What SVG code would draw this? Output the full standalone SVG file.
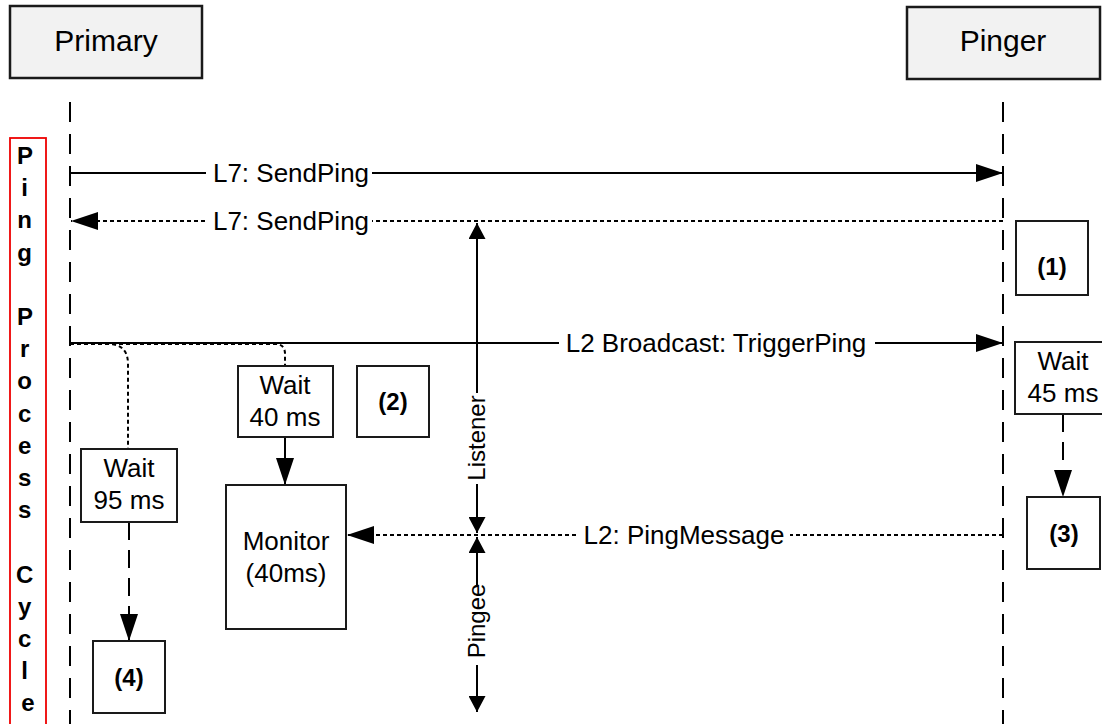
<svg xmlns="http://www.w3.org/2000/svg" width="1102" height="724" viewBox="0 0 1102 724">
  <style>
    text { font-family: "Liberation Sans", Arial, sans-serif; fill: #000; }
    .hdr { fill: #f2f2f2; stroke: #1a1a1a; stroke-width: 2.5; }
    .box { fill: #fff; stroke: #1a1a1a; stroke-width: 2; }
    .t30 { font-size: 30px; }
    .t26 { font-size: 26px; }
    .t24 { font-size: 24px; }
    .num { font-size: 24px; font-weight: bold; }
    .life { fill: none; stroke: #000; stroke-width: 2; stroke-dasharray: 20 12; }
    .solid { fill: none; stroke: #000; stroke-width: 2; }
    .dot { fill: none; stroke: #000; stroke-width: 2; stroke-dasharray: 4 3; }
    .dash { fill: none; stroke: #000; stroke-width: 2; stroke-dasharray: 18 10; }
    .mask { fill: #fff; stroke: none; }
  </style>
  <defs>
    <marker id="ah" markerUnits="userSpaceOnUse" markerWidth="27" markerHeight="18" refX="27" refY="9" orient="auto">
      <path d="M0,0 L27,9 L0,18 z" fill="#000"/>
    </marker>
    <marker id="ahs" markerUnits="userSpaceOnUse" markerWidth="16" markerHeight="17" refX="16" refY="8.5" orient="auto">
      <path d="M0,0 L16,8.5 L0,17 z" fill="#000"/>
    </marker>
  </defs>

  <!-- lifeline headers -->
  <g id="primary">
    <rect class="hdr" x="10" y="6" width="192" height="72"/>
    <text class="t30" x="106" y="51" text-anchor="middle">Primary</text>
  </g>
  <g id="pinger">
    <rect class="hdr" x="907" y="7" width="193" height="72"/>
    <text class="t30" x="1003" y="51" text-anchor="middle">Pinger</text>
  </g>

  <!-- cycle banner -->
  <g id="cycle">
    <rect x="10" y="138" width="36" height="600" fill="none" stroke="#e00" stroke-width="1.8"/>
    <text class="num" text-anchor="middle">
      <tspan x="28" y="164">P</tspan>
      <tspan x="28" dy="32.2">i</tspan>
      <tspan x="28" dy="32.2">n</tspan>
      <tspan x="28" dy="32.2">g</tspan>
      <tspan x="28" dy="64.4">P</tspan>
      <tspan x="28" dy="32.2">r</tspan>
      <tspan x="28" dy="32.2">o</tspan>
      <tspan x="28" dy="32.2">c</tspan>
      <tspan x="28" dy="32.2">e</tspan>
      <tspan x="28" dy="32.2">s</tspan>
      <tspan x="28" dy="32.2">s</tspan>
      <tspan x="28" dy="64.4">C</tspan>
      <tspan x="28" dy="32.2">y</tspan>
      <tspan x="28" dy="32.2">c</tspan>
      <tspan x="28" dy="32.2">l</tspan>
      <tspan x="28" dy="32.2">e</tspan>
    </text>
  </g>

  <!-- connectors -->
  <g id="connectors">
    <path class="life" d="M70,102 V724"/>
    <path class="life" d="M1003,102 V724"/>

    <!-- L7 request / reply -->
    <path class="solid" d="M70,173 H1003" marker-end="url(#ah)"/>
    <rect class="mask" x="206" y="160" width="166" height="28"/>
    <text class="t26" x="291" y="182" text-anchor="middle">L7: SendPing</text>

    <path class="dot" d="M1003,221 H71" marker-end="url(#ah)"/>
    <rect class="mask" x="206" y="208" width="166" height="28"/>
    <text class="t26" x="291" y="230" text-anchor="middle">L7: SendPing</text>

    <!-- L2 broadcast trigger -->
    <path class="dot" d="M70,344 H108 Q128,344 128,364 V449"/>
    <path class="dot" d="M70,344 H275 Q285,344 285,354 V366"/>
    <path class="solid" d="M70,343 H1003" marker-end="url(#ah)"/>
    <rect class="mask" x="559" y="330" width="316" height="28"/>
    <text class="t26" x="716" y="352" text-anchor="middle">L2 Broadcast: TriggerPing</text>

    <!-- L2 ping message back to monitor -->
    <path class="dot" d="M1003,535 H347" marker-end="url(#ah)"/>
    <rect class="mask" x="577" y="522" width="213" height="28"/>
    <text class="t26" x="684" y="544" text-anchor="middle">L2: PingMessage</text>

    <!-- timers -->
    <path class="solid" d="M285,437 V485" marker-end="url(#ah)"/>
    <path class="dash" d="M129,522 V641" marker-end="url(#ah)"/>
    <path class="dash" d="M1063,414 V497" marker-end="url(#ah)"/>

    <!-- listener / pingee span -->
    <path class="solid" d="M477,393 V223" marker-end="url(#ahs)"/>
    <path class="solid" d="M477,484 V533" marker-end="url(#ahs)"/>
    <text class="t24" transform="translate(485,438) rotate(-90)" text-anchor="middle">Listener</text>
    <path class="solid" d="M477,585 V537" marker-end="url(#ahs)"/>
    <path class="solid" d="M477,665 V712" marker-end="url(#ahs)"/>
    <text class="t24" transform="translate(485,621) rotate(-90)" text-anchor="middle">Pingee</text>
  </g>

  <!-- Primary side -->
  <g id="wait95">
    <rect class="box" x="81" y="449" width="96" height="73"/>
    <text class="t26" x="129" y="477" text-anchor="middle">Wait</text>
    <text class="t26" x="129" y="509" text-anchor="middle">95 ms</text>
  </g>
  <g id="wait40">
    <rect class="box" x="238" y="366" width="95" height="71"/>
    <text class="t26" x="285" y="394" text-anchor="middle">Wait</text>
    <text class="t26" x="285" y="426" text-anchor="middle">40 ms</text>
  </g>
  <g id="monitor">
    <rect class="box" x="226" y="485" width="120" height="144"/>
    <text class="t26" x="286" y="550" text-anchor="middle">Monitor</text>
    <text class="t26" x="286" y="582" text-anchor="middle">(40ms)</text>
  </g>
  <g id="step2">
    <rect class="box" x="357" y="366" width="72" height="71"/>
    <text class="num" x="393" y="410" text-anchor="middle">(2)</text>
  </g>
  <g id="step4">
    <rect class="box" x="93" y="641" width="72" height="72"/>
    <text class="num" x="129" y="686" text-anchor="middle">(4)</text>
  </g>

  <!-- Pinger side -->
  <g id="step1">
    <rect class="box" x="1016" y="221" width="72" height="74"/>
    <text class="num" x="1052" y="275" text-anchor="middle">(1)</text>
  </g>
  <g id="wait45">
    <rect class="box" x="1015" y="342" width="95" height="72"/>
    <text class="t26" x="1063" y="370" text-anchor="middle">Wait</text>
    <text class="t26" x="1063" y="402" text-anchor="middle">45 ms</text>
  </g>
  <g id="step3">
    <rect class="box" x="1027" y="497" width="73" height="72"/>
    <text class="num" x="1064" y="542" text-anchor="middle">(3)</text>
  </g>
</svg>
